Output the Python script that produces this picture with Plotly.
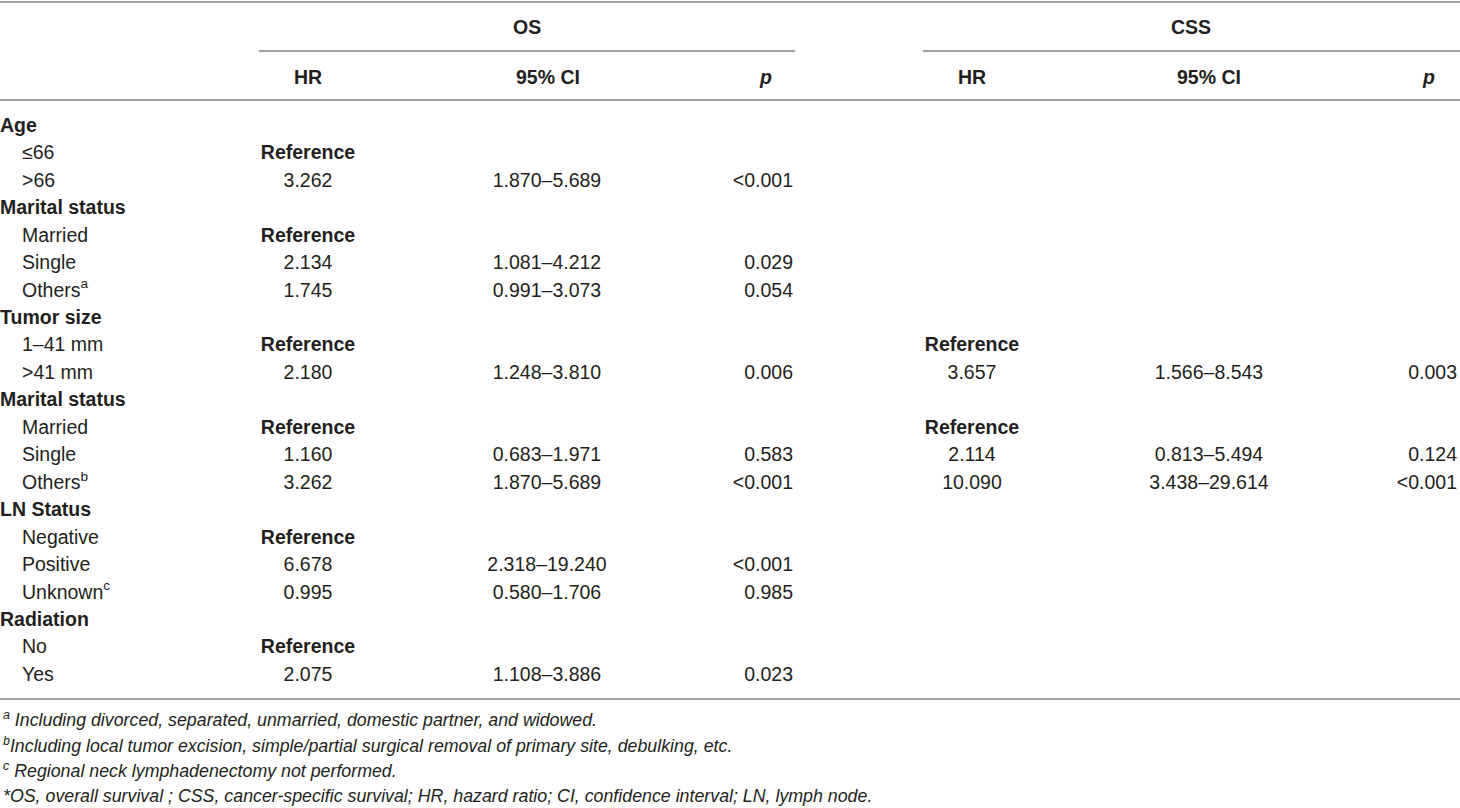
import plotly.graph_objects as go

# rows of the table (left column)
row_labels = ["Age", "≤66", "&gt;66",
              "Marital status", "Married", "Single", "Others<sup>a</sup>",
              "Tumor size", "1–41 mm", "&gt;41 mm",
              "Marital status", "Married", "Single", "Others<sup>b</sup>",
              "LN Status", "Negative", "Positive", "Unknown<sup>c</sup>",
              "Radiation", "No", "Yes"]
group_rows = [0, 3, 7, 10, 14, 18]

# OS block
os_hr = ["", "Reference", "3.262", "", "Reference", "2.134", "1.745", "", "Reference", "2.180",
         "", "Reference", "1.160", "3.262", "", "Reference", "6.678", "0.995", "", "Reference", "2.075"]
os_ci = ["", "", "1.870–5.689", "", "", "1.081–4.212", "0.991–3.073", "", "", "1.248–3.810",
         "", "", "0.683–1.971", "1.870–5.689", "", "", "2.318–19.240", "0.580–1.706", "", "", "1.108–3.886"]
os_p = ["", "", "&lt;0.001", "", "", "0.029", "0.054", "", "", "0.006",
        "", "", "0.583", "&lt;0.001", "", "", "&lt;0.001", "0.985", "", "", "0.023"]

# CSS block
css_hr = ["", "", "", "", "", "", "", "", "Reference", "3.657",
          "", "Reference", "2.114", "10.090", "", "", "", "", "", "", ""]
css_ci = ["", "", "", "", "", "", "", "", "", "1.566–8.543",
          "", "", "0.813–5.494", "3.438–29.614", "", "", "", "", "", "", ""]
css_p = ["", "", "", "", "", "", "", "", "", "0.003",
         "", "", "0.124", "&lt;0.001", "", "", "", "", "", "", ""]

sub_headers = ["HR", "95% CI", "<i>p</i>"]
footnotes = ["<sup>a</sup> Including divorced, separated, unmarried, domestic partner, and widowed.",
             "<sup>b</sup>Including local tumor excision, simple/partial surgical removal of primary site, debulking, etc.",
             "<sup>c</sup> Regional neck lymphadenectomy not performed.",
             "*OS, overall survival ; CSS, cancer-specific survival; HR, hazard ratio; CI, confidence interval; LN, lymph node."]

FONT = "Liberation Sans, Arial, sans-serif"
INK = "#231f20"
RULE = "#a0a0a0"
SIZE = 19.5

W, H = 1460, 808
row_top, row_step = 127, 27.45
ys = [row_top + i * row_step for i in range(len(row_labels))]

fig = go.Figure()


def fmt(t):
    return "<b>Reference</b>" if t == "Reference" else t


def add_col(texts, x, pos):
    keep = [(fmt(t), y) for t, y in zip(texts, ys) if t]
    fig.add_trace(go.Scatter(
        x=[x] * len(keep), y=[y for _, y in keep], text=[t for t, _ in keep],
        mode="text", textposition=pos,
        textfont=dict(family=FONT, size=SIZE, color=INK),
        hoverinfo="skip", showlegend=False, cliponaxis=False))


# left labels: groups bold at the margin, levels indented
groups = ["<b>%s</b>" % l if i in group_rows else "" for i, l in enumerate(row_labels)]
levels = ["" if i in group_rows else l for i, l in enumerate(row_labels)]
add_col(groups, 0, "middle right")
add_col(levels, 22, "middle right")

add_col(os_hr, 308, "middle center")
add_col(os_ci, 547, "middle center")
add_col(os_p, 793, "middle left")
add_col(css_hr, 972, "middle center")
add_col(css_ci, 1209, "middle center")
add_col(css_p, 1457, "middle left")

# headers
hdr = dict(xref="x", yref="y", showarrow=False,
           font=dict(family=FONT, size=SIZE, color=INK))
fig.add_annotation(x=527, y=27, text="<b>OS</b>", **hdr)
fig.add_annotation(x=1191, y=27, text="<b>CSS</b>", **hdr)
for xs in ([308, 548, 765], [972, 1209, 1428]):
    for x, t in zip(xs, sub_headers):
        fig.add_annotation(x=x, y=77, text="<b>%s</b>" % t, **hdr)

# footnotes
for t, y in zip(footnotes, [719, 744.5, 770, 795.5]):
    fig.add_annotation(x=1, y=y, text="<i>%s</i>" % t, xanchor="left", xref="x", yref="y",
                       showarrow=False, font=dict(family=FONT, size=17.8, color=INK))

# rules
line = dict(color=RULE, width=2.2)
fig.add_shape(type="line", x0=0, x1=W, y0=2, y1=2, line=line)
fig.add_shape(type="line", x0=259, x1=795, y0=51, y1=51, line=line)
fig.add_shape(type="line", x0=923, x1=W, y0=51, y1=51, line=line)
fig.add_shape(type="line", x0=0, x1=W, y0=100, y1=100, line=line)
fig.add_shape(type="line", x0=0, x1=W, y0=699, y1=699, line=line)

fig.update_xaxes(range=[0, W], visible=False, fixedrange=True)
fig.update_yaxes(range=[H, 0], visible=False, fixedrange=True)
fig.update_layout(width=W, height=H, margin=dict(l=0, r=0, t=0, b=0),
                  paper_bgcolor="white", plot_bgcolor="white")

fig.write_html("out.html", config={"displayModeBar": False},
               post_script="document.body.style.margin='0';document.body.style.overflow='hidden';")
